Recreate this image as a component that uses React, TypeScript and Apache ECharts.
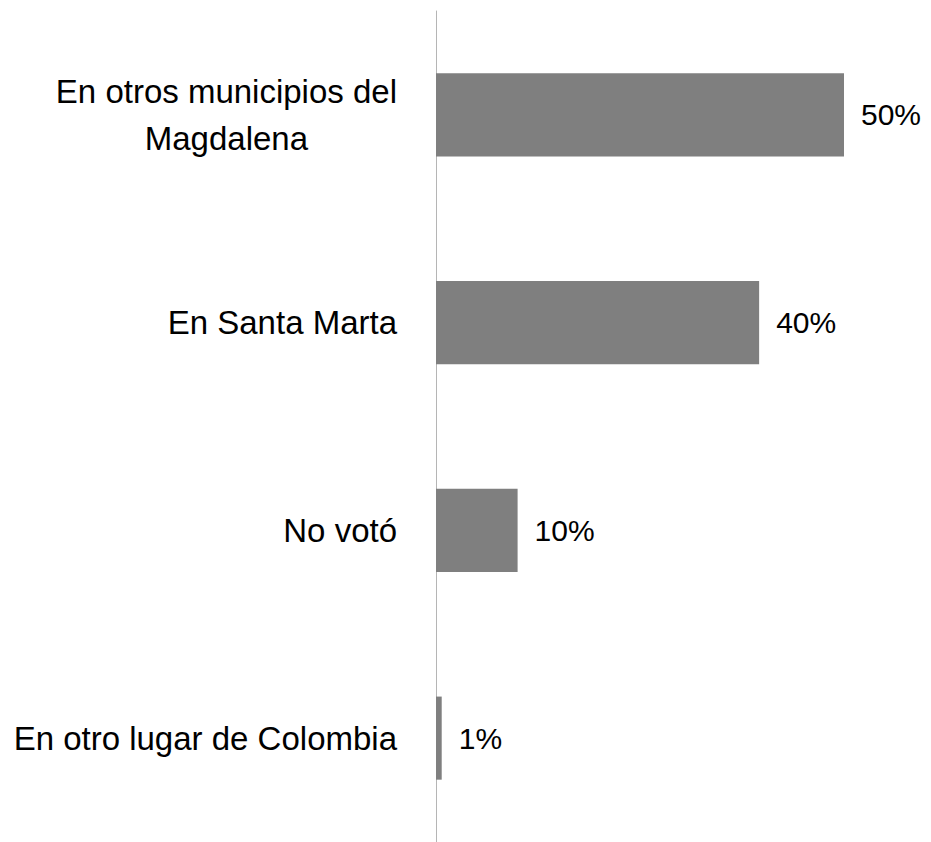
import React, { useEffect, useRef } from "react";
import * as echarts from "echarts";

const categories = [
  "En otros municipios del\nMagdalena",
  "En Santa Marta",
  "No votó",
  "En otro lugar de Colombia",
];
const values = [50, 39.6, 10, 0.7];

export default function App() {
  const ref = useRef<HTMLDivElement>(null);
  useEffect(() => {
    document.body.style.margin = "0";
    const chart = echarts.init(ref.current!, null, { renderer: "svg" });
    chart.setOption({
      animation: false,
      backgroundColor: "#ffffff",
      grid: { left: 436, top: 11, width: 408, height: 832 },
      xAxis: {
        type: "value",
        min: 0,
        max: 50,
        show: false,
      },
      yAxis: {
        type: "category",
        data: categories,
        inverse: true,
        axisLine: { show: true, lineStyle: { color: "#b5b5b5", width: 1 } },
        axisTick: { show: false },
        splitLine: { show: false },
        axisLabel: {
          margin: 39,
          align: "right",
          fontFamily: "Liberation Sans, Arial, sans-serif",
          fontSize: 33,
          color: "#000000",
          lineHeight: 47,
          formatter: (v: string) =>
            v
              .split("\n")
              .map((l) => `{c|${l}}`)
              .join("\n"),
          rich: {
            c: {
              align: "center",
              fontFamily: "Liberation Sans, Arial, sans-serif",
              fontSize: 33,
              color: "#000000",
              lineHeight: 47,
            },
          },
        },
      },
      series: [
        {
          type: "bar",
          data: values,
          barWidth: "40%",
          itemStyle: { color: "#7f7f7f" },
          label: {
            show: true,
            position: "right",
            distance: 17,
            fontFamily: "Liberation Sans, Arial, sans-serif",
            fontSize: 30,
            color: "#000000",
            formatter: (p: any) => `${Math.round(p.value)}%`,
          },
        },
      ],
    });
    return () => chart.dispose();
  }, []);
  return <div ref={ref} style={{ width: 931, height: 842 }} />;
}
